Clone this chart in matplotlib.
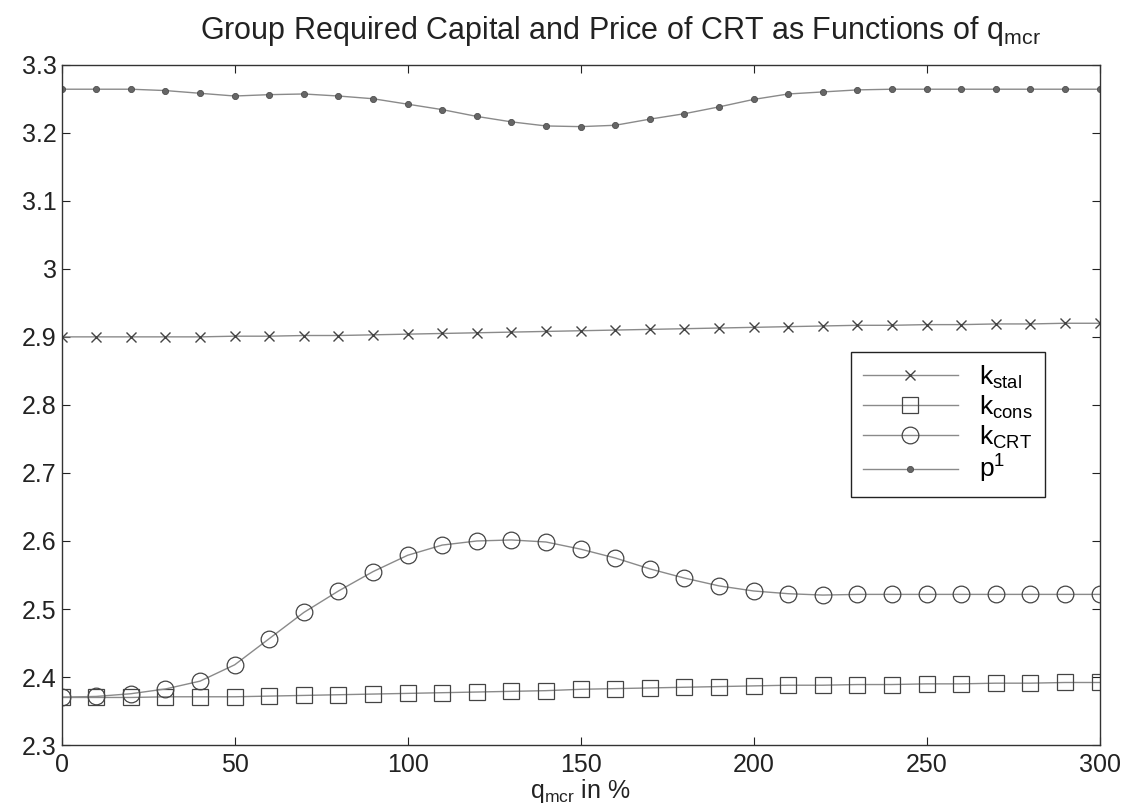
import matplotlib
matplotlib.use("Agg")
import matplotlib.pyplot as plt

plt.rcParams["font.family"] = ["Liberation Sans", "DejaVu Sans"]
plt.rcParams["mathtext.fontset"] = "custom"
plt.rcParams["mathtext.rm"] = "Liberation Sans"
plt.rcParams["mathtext.it"] = "Liberation Sans"

q_mcr = list(range(0, 301, 10))

p1 = [3.264, 3.264, 3.264, 3.262, 3.258, 3.254, 3.256, 3.257, 3.254, 3.250,
      3.242, 3.234, 3.224, 3.216, 3.210, 3.209, 3.211, 3.220, 3.228, 3.238,
      3.249, 3.257, 3.260, 3.263, 3.264, 3.264, 3.264, 3.264, 3.264, 3.264, 3.264]

k_stal = [2.900, 2.900, 2.900, 2.900, 2.900, 2.901, 2.901, 2.902, 2.902, 2.903,
          2.904, 2.905, 2.906, 2.907, 2.908, 2.909, 2.910, 2.911, 2.912, 2.913,
          2.914, 2.915, 2.916, 2.917, 2.917, 2.918, 2.918, 2.919, 2.919, 2.920, 2.920]

k_cons = [2.370, 2.370, 2.370, 2.371, 2.371, 2.371, 2.372, 2.373, 2.374, 2.375,
          2.376, 2.377, 2.378, 2.379, 2.380, 2.382, 2.383, 2.384, 2.385, 2.386,
          2.387, 2.388, 2.388, 2.389, 2.389, 2.390, 2.390, 2.391, 2.391, 2.392, 2.392]

k_crt = [2.3705, 2.3715, 2.3755, 2.3825, 2.394, 2.418, 2.4565, 2.495, 2.5265, 2.555,
         2.579, 2.594, 2.600, 2.6015, 2.5985, 2.588, 2.575, 2.559, 2.5455, 2.534,
         2.5265, 2.5225, 2.5205, 2.5215, 2.5215, 2.5215, 2.5215, 2.5215, 2.5215, 2.5215, 2.5215]

y_ticks = [2.3, 2.4, 2.5, 2.6, 2.7, 2.8, 2.9, 3.0, 3.1, 3.2, 3.3]
y_tick_labels = ["2.3", "2.4", "2.5", "2.6", "2.7", "2.8", "2.9", "3", "3.1", "3.2", "3.3"]
x_ticks = [0, 50, 100, 150, 200, 250, 300]

fig = plt.figure(figsize=(11.22, 8.09), dpi=100)
ax = fig.add_axes([0.055, 0.079, 0.925, 0.841])

linea = dict(color="#8a8a8a", linewidth=1.0, markeredgecolor="#444444")
ax.plot(q_mcr, k_stal, marker="x", markersize=7, markeredgewidth=1.0,
        label=r"k$_{\mathrm{stal}}$", **linea)
ax.plot(q_mcr, k_cons, marker="s", markersize=11, markerfacecolor="none",
        markeredgewidth=0.9, label=r"k$_{\mathrm{cons}}$", **linea)
ax.plot(q_mcr, k_crt, marker="o", markersize=12, markerfacecolor="none",
        markeredgewidth=0.9, label=r"k$_{\mathrm{CRT}}$", **linea)
ax.plot(q_mcr, p1, marker="o", markersize=4.5, markerfacecolor="#666666",
        markeredgewidth=0.5, label=r"p$^{1}$", **linea)

ax.set_xlim(0, 300)
ax.set_ylim(2.3, 3.3)
ax.set_xticks(x_ticks)
ax.set_yticks(y_ticks)
ax.set_yticklabels(y_tick_labels)
ax.tick_params(direction="in", top=True, right=True, labelsize=18, length=6,
               colors="#222222")
ax.tick_params(axis="x", pad=6)
for s in ax.spines.values():
    s.set_color("#333333")
    s.set_linewidth(1.0)

ax.set_xlabel(r"q$_{\mathrm{mcr}}$ in %", fontsize=18, labelpad=0, color="#222222")
fig.text(0.553, 0.962,
         r"Group Required Capital and Price of CRT as Functions of q$_{\mathrm{mcr}}$",
         fontsize=22, ha="center", va="center", color="#222222")

leg = ax.legend(loc="upper right", bbox_to_anchor=(0.947, 0.578), fontsize=19,
                handlelength=3.6, labelspacing=0.1, borderpad=0.45, borderaxespad=0,
                fancybox=False, framealpha=1, edgecolor="#222222")
leg.get_frame().set_linewidth(1.0)

plt.savefig("out.png", dpi=100)
